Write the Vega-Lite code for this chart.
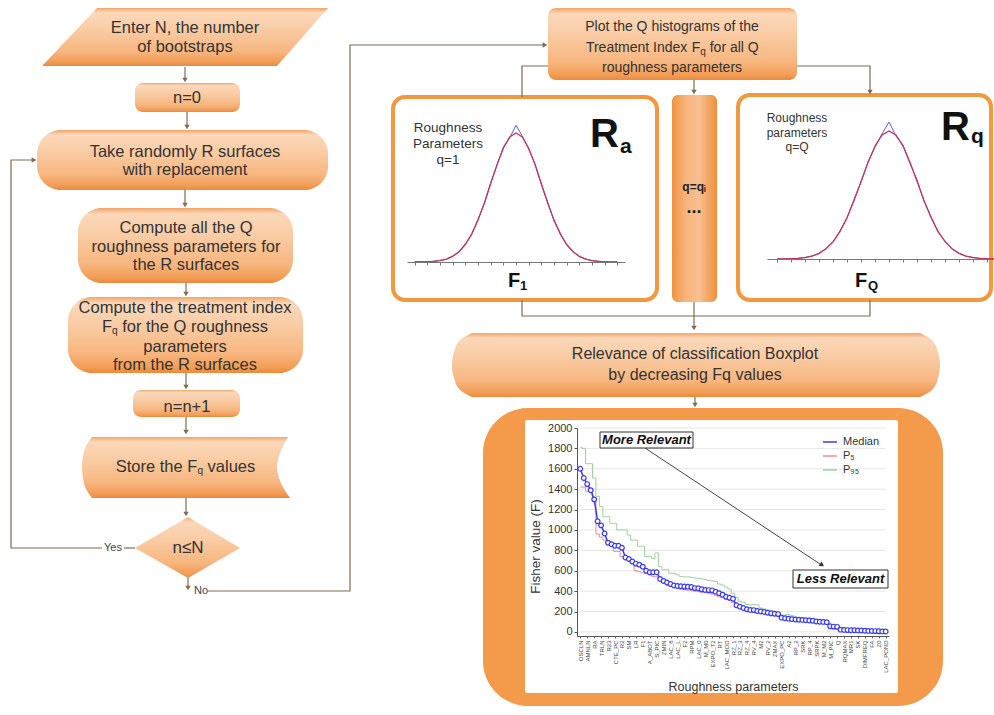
{
"$schema": "https://vega.github.io/schema/vega-lite/v6.json",
"width": 994, "height": 715, "padding": 0, "autosize": {"type": "none"},
"background": "white",
"config": {"view": {"stroke": null}, "font": "Liberation Sans"},
"datasets": {
 "smallBoxes": [{"x":135,"x2":240,"y":83,"y2":112},{"x":133,"x2":240,"y":390,"y2":417},{"x":548,"x2":797,"y":8,"y2":80}],
 "bigBoxes": [{"x":37,"x2":328,"y":130,"y2":190},{"x":78,"x2":293,"y":208,"y2":283},{"x":68,"x2":303,"y":297,"y2":373}],
 "vshapes": [{"s":"para","x":42,"y":66,"y2":66},{"s":"para","x":97,"y":8,"y2":66},{"s":"para","x":277,"y":8,"y2":66},{"s":"para","x":328,"y":8,"y2":8},{"s":"dia","x":135,"y":548,"y2":548},{"s":"dia","x":188,"y":517,"y2":578},{"s":"dia","x":240,"y":548,"y2":548}],
 "hshapes": [{"s":"store","y":437,"x":92,"x2":288},{"s":"store","y":446,"x":86,"x2":283},{"s":"store","y":456,"x":83,"x2":279},{"s":"store","y":467,"x":82,"x2":277},{"s":"store","y":478,"x":83,"x2":279},{"s":"store","y":489,"x":86,"x2":284},{"s":"store","y":498,"x":92,"x2":290},
   {"s":"rel","y":333,"x":472,"x2":920},{"s":"rel","y":340,"x":460,"x2":932},{"s":"rel","y":352,"x":454,"x2":938},{"s":"rel","y":365,"x":452,"x2":940},{"s":"rel","y":378,"x":454,"x2":938},{"s":"rel","y":390,"x":460,"x2":932},{"s":"rel","y":397,"x":472,"x2":920}]
},
"resolve": {"scale": {"x": "independent", "y": "independent"}},
"layer": [
 {
  "encoding": {
   "x": {"field":"x","type":"quantitative","scale":{"domain":[0,994],"nice":false,"zero":false},"axis":null,"stack":null},
   "y": {"field":"y","type":"quantitative","scale":{"domain":[0,715],"nice":false,"zero":false,"reverse":true},"axis":null,"stack":null}
  },
  "layer": [
   {"data":{"values":[{"x":483,"x2":943,"y":408,"y2":706}]},"mark":{"type":"rect","cornerRadius":45,"color":"#F39A4B"},"encoding":{"x2":{"field":"x2"},"y2":{"field":"y2"}}},
   {"data":{"values":[{"x":525,"x2":898,"y":420,"y2":693}]},"mark":{"type":"rect","color":"white","cornerRadius":2},"encoding":{"x2":{"field":"x2"},"y2":{"field":"y2"}}},
   {"data":{"name":"smallBoxes"},"mark":{"type":"rect","cornerRadius":8,"color":"#8a8a8a","opacity":0.3,"xOffset":2,"yOffset":3},"encoding":{"x2":{"field":"x2"},"y2":{"field":"y2"}}},
   {"data":{"name":"bigBoxes"},"mark":{"type":"rect","cornerRadius":24,"color":"#8a8a8a","opacity":0.3,"xOffset":2,"yOffset":3},"encoding":{"x2":{"field":"x2"},"y2":{"field":"y2"}}},
   {"data":{"name":"smallBoxes"},"mark":{"type":"rect","cornerRadius":8,"fill":{"gradient":"linear","x1":0,"y1":0,"x2":0,"y2":1,"stops":[{"offset":0,"color":"#F4A466"},{"offset":0.08,"color":"#FBD8BA"},{"offset":0.35,"color":"#FACDA6"},{"offset":0.75,"color":"#F7B67F"},{"offset":0.93,"color":"#F29C55"},{"offset":1,"color":"#EA8A3C"}]}},"encoding":{"x2":{"field":"x2"},"y2":{"field":"y2"}}},
   {"data":{"name":"bigBoxes"},"mark":{"type":"rect","cornerRadius":24,"fill":{"gradient":"linear","x1":0,"y1":0,"x2":0,"y2":1,"stops":[{"offset":0,"color":"#F4A466"},{"offset":0.08,"color":"#FBD8BA"},{"offset":0.35,"color":"#FACDA6"},{"offset":0.75,"color":"#F7B67F"},{"offset":0.93,"color":"#F29C55"},{"offset":1,"color":"#EA8A3C"}]}},"encoding":{"x2":{"field":"x2"},"y2":{"field":"y2"}}},
   {"data":{"values":[{"x":672,"x2":717,"y":95,"y2":302}]},"mark":{"type":"rect","cornerRadius":6,"fill":{"gradient":"linear","x1":0,"y1":0,"x2":1,"y2":0,"stops":[{"offset":0,"color":"#EF923F"},{"offset":0.3,"color":"#F7B47C"},{"offset":0.6,"color":"#F8BF90"},{"offset":1,"color":"#EE8F3C"}]}},"encoding":{"x2":{"field":"x2"},"y2":{"field":"y2"}}},
   {"data":{"values":[{"x":393,"x2":657,"y":97,"y2":300},{"x":738,"x2":991,"y":95,"y2":300}]},"mark":{"type":"rect","cornerRadius":12,"fill":"white","stroke":"#F2983F","strokeWidth":4},"encoding":{"x2":{"field":"x2"},"y2":{"field":"y2"}}},
   {"data":{"name":"vshapes"},"mark":{"type":"area","interpolate":"linear","fill":{"gradient":"linear","x1":0,"y1":0,"x2":0,"y2":1,"stops":[{"offset":0,"color":"#F4A466"},{"offset":0.08,"color":"#FBD8BA"},{"offset":0.35,"color":"#FACDA6"},{"offset":0.75,"color":"#F7B67F"},{"offset":0.93,"color":"#F29C55"},{"offset":1,"color":"#EA8A3C"}]}},"encoding":{"y2":{"field":"y2"},"detail":{"field":"s","type":"nominal"}}},
   {"data":{"name":"hshapes"},"mark":{"type":"area","orient":"horizontal","interpolate":"monotone","fill":{"gradient":"linear","x1":0,"y1":0,"x2":0,"y2":1,"stops":[{"offset":0,"color":"#F4A466"},{"offset":0.08,"color":"#FBD8BA"},{"offset":0.35,"color":"#FACDA6"},{"offset":0.75,"color":"#F7B67F"},{"offset":0.93,"color":"#F29C55"},{"offset":1,"color":"#EA8A3C"}]}},"encoding":{"x2":{"field":"x2"},"detail":{"field":"s","type":"nominal"}}},
   {"data":{"values":[
     {"seg":"a","k":0,"x":185,"y":67},{"seg":"a","k":1,"x":185,"y":80},
     {"seg":"b","k":0,"x":187,"y":112},{"seg":"b","k":1,"x":187,"y":127},
     {"seg":"c","k":0,"x":185,"y":190},{"seg":"c","k":1,"x":185,"y":205},
     {"seg":"d","k":0,"x":186,"y":283},{"seg":"d","k":1,"x":186,"y":294},
     {"seg":"e","k":0,"x":186,"y":373},{"seg":"e","k":1,"x":186,"y":387},
     {"seg":"f","k":0,"x":186,"y":417},{"seg":"f","k":1,"x":186,"y":432},
     {"seg":"g","k":0,"x":186,"y":498},{"seg":"g","k":1,"x":186,"y":514},
     {"seg":"loop1","k":0,"x":135,"y":548},{"seg":"loop1","k":1,"x":124,"y":548},
     {"seg":"loop2","k":0,"x":102,"y":548},{"seg":"loop2","k":1,"x":11,"y":548},{"seg":"loop2","k":2,"x":11,"y":160},{"seg":"loop2","k":3,"x":34,"y":160},
     {"seg":"no1","k":0,"x":188,"y":578},{"seg":"no1","k":1,"x":188,"y":588},
     {"seg":"no2","k":0,"x":208,"y":591},{"seg":"no2","k":1,"x":350,"y":591},{"seg":"no2","k":2,"x":350,"y":45},{"seg":"no2","k":3,"x":545,"y":45},
     {"seg":"pl","k":0,"x":548,"y":66},{"seg":"pl","k":1,"x":522,"y":66},{"seg":"pl","k":2,"x":522,"y":97},
     {"seg":"pr","k":0,"x":797,"y":66},{"seg":"pr","k":1,"x":870,"y":66},{"seg":"pr","k":2,"x":870,"y":92},
     {"seg":"pm","k":0,"x":694,"y":80},{"seg":"pm","k":1,"x":694,"y":92},
     {"seg":"bot","k":0,"x":522,"y":300},{"seg":"bot","k":1,"x":522,"y":316},{"seg":"bot","k":2,"x":870,"y":316},{"seg":"bot","k":3,"x":870,"y":300},
     {"seg":"mid","k":0,"x":694,"y":302},{"seg":"mid","k":1,"x":694,"y":328},
     {"seg":"rel","k":0,"x":695,"y":397},{"seg":"rel","k":1,"x":695,"y":405}
    ]},
    "mark":{"type":"line","color":"#7F6D52","strokeWidth":1.2},"encoding":{"detail":{"field":"seg","type":"nominal"},"order":{"field":"k","type":"quantitative"}}},
   {"data":{"values":[
     {"x":185,"y":80,"dir":"down"},{"x":187,"y":127,"dir":"down"},{"x":185,"y":205,"dir":"down"},{"x":186,"y":294,"dir":"down"},{"x":186,"y":387,"dir":"down"},{"x":186,"y":432,"dir":"down"},{"x":186,"y":514,"dir":"down"},{"x":188,"y":588,"dir":"down"},
     {"x":34,"y":160,"dir":"right"},{"x":545,"y":45,"dir":"right"},{"x":870,"y":92,"dir":"down"},{"x":694,"y":92,"dir":"down"},{"x":694,"y":328,"dir":"down"},{"x":695,"y":405,"dir":"down"}
    ]},
    "mark":{"type":"point","filled":true,"size":30,"color":"#7F6D52","opacity":1},
    "encoding":{"shape":{"field":"dir","type":"nominal","scale":{"domain":["down","right"],"range":["triangle-down","triangle-right"]},"legend":null}}},
   {"data":{"values":[
     {"x":185,"y":28,"t":"Enter N, the number"},{"x":185,"y":47,"t":"of bootstraps"},{"x":187,"y":98,"t":"n=0"},
     {"x":185,"y":152,"t":"Take randomly R surfaces"},{"x":185,"y":170,"t":"with replacement"},
     {"x":186,"y":228,"t":"Compute all the Q"},{"x":186,"y":247,"t":"roughness parameters for"},{"x":186,"y":265,"t":"the R surfaces"},
     {"x":185,"y":308,"t":"Compute the treatment index"},{"x":185,"y":347,"t":"parameters"},{"x":185,"y":365,"t":"from the R surfaces"},
     {"x":187,"y":407,"t":"n=n+1"}
    ]},"mark":{"type":"text","fontSize":16.5,"color":"#333333","align":"center","baseline":"middle"},"encoding":{"text":{"field":"t"}}},
   {"data":{"values":[{"x":695,"y":354,"t":"Relevance of classification Boxplot"},{"x":695,"y":375,"t":"by decreasing Fq values"}]},
    "mark":{"type":"text","fontSize":16,"color":"#333333","align":"center","baseline":"middle"},"encoding":{"text":{"field":"t"}}},
   {"data":{"values":[{"x":672,"y":27,"t":"Plot the Q histograms of the"},{"x":672,"y":68,"t":"roughness parameters"}]},
    "mark":{"type":"text","fontSize":14,"color":"#333333","align":"center","baseline":"middle"},"encoding":{"text":{"field":"t"}}},
   {"data":{"values":[{"x":115.75,"y":467,"t":"Store the"},{"x":187.3,"y":467,"t":"F"},{"x":207.6,"y":467,"t":"values"},{"x":101.95,"y":327,"t":"F"},{"x":122.2,"y":327,"t":"for the Q roughness"}]},
    "mark":{"type":"text","fontSize":16.5,"color":"#333333","align":"left","baseline":"middle"},"encoding":{"text":{"field":"t"}}},
   {"data":{"values":[{"x":585.9,"y":48,"t":"Treatment Index"},{"x":691.7,"y":48,"t":"F"},{"x":709.7,"y":48,"t":"for all Q"}]},
    "mark":{"type":"text","fontSize":14,"color":"#333333","align":"left","baseline":"middle"},"encoding":{"text":{"field":"t"}}},
   {"data":{"values":[{"x":197.4,"y":471,"t":"q"},{"x":112.05,"y":331,"t":"q"},{"x":700.25,"y":52,"t":"q"}]},
    "mark":{"type":"text","fontSize":10,"color":"#333333","align":"left","baseline":"middle"},"encoding":{"text":{"field":"t"}}},
   {"data":{"values":[{"x":188,"y":548,"t":"n≤N"}]},
    "mark":{"type":"text","fontSize":17,"color":"#333333","align":"center","baseline":"middle"},"encoding":{"text":{"field":"t"}}},
   {"data":{"values":[{"x":113,"y":548,"t":"Yes"},{"x":201,"y":591,"t":"No"}]},
    "mark":{"type":"text","fontSize":11,"color":"#444444","align":"center","baseline":"middle"},"encoding":{"text":{"field":"t"}}},
   {"data":{"values":[{"x":448,"y":128,"t":"Roughness"},{"x":448,"y":144,"t":"Parameters"},{"x":448,"y":160,"t":"q=1"}]},
    "mark":{"type":"text","fontSize":13.5,"color":"#333333","align":"center","baseline":"middle"},"encoding":{"text":{"field":"t"}}},
   {"data":{"values":[{"x":797,"y":118,"t":"Roughness"},{"x":797,"y":133,"t":"parameters"},{"x":797,"y":147,"t":"q=Q"}]},
    "mark":{"type":"text","fontSize":12,"color":"#333333","align":"center","baseline":"middle"},"encoding":{"text":{"field":"t"}}},
   {"data":{"values":[{"x":590,"y":147,"t":"R"},{"x":941,"y":140,"t":"R"}]},
    "mark":{"type":"text","fontSize":40,"fontWeight":"bold","color":"#111111","align":"left","baseline":"alphabetic"},"encoding":{"text":{"field":"t"}}},
   {"data":{"values":[{"x":620,"y":153,"t":"a"},{"x":971,"y":143,"t":"q"}]},
    "mark":{"type":"text","fontSize":21,"fontWeight":"bold","color":"#111111","align":"left","baseline":"alphabetic"},"encoding":{"text":{"field":"t"}}},
   {"data":{"values":[{"x":508,"y":287,"t":"F"},{"x":855,"y":287,"t":"F"}]},
    "mark":{"type":"text","fontSize":20,"fontWeight":"bold","color":"#111111","align":"left","baseline":"alphabetic"},"encoding":{"text":{"field":"t"}}},
   {"data":{"values":[{"x":520,"y":290,"t":"1"},{"x":868,"y":290,"t":"Q"}]},
    "mark":{"type":"text","fontSize":13,"fontWeight":"bold","color":"#111111","align":"left","baseline":"alphabetic"},"encoding":{"text":{"field":"t"}}},
   {"data":{"values":[{"x":694,"y":187,"t":"q=qᵢ"}]},
    "mark":{"type":"text","fontSize":12,"fontWeight":"bold","color":"#222222","align":"center","baseline":"middle"},"encoding":{"text":{"field":"t"}}},
   {"data":{"values":[{"x":694,"y":208,"t":"..."}]},
    "mark":{"type":"text","fontSize":18,"fontWeight":"bold","color":"#222222","align":"center","baseline":"middle"},"encoding":{"text":{"field":"t"}}}
  ]
 },
 {
  "data": {"values": [
   {"k":-4,"red":0.0003,"blue":0.001},{"k":-3.75,"red":0.0009,"blue":0.002},{"k":-3.5,"red":0.0022,"blue":0.003},{"k":-3.25,"red":0.0051,"blue":0.006},{"k":-3,"red":0.011,"blue":0.012},{"k":-2.75,"red":0.0228,"blue":0.021},{"k":-2.5,"red":0.0439,"blue":0.046},{"k":-2.25,"red":0.0796,"blue":0.076},{"k":-2,"red":0.1353,"blue":0.14},{"k":-1.75,"red":0.2163,"blue":0.212},{"k":-1.5,"red":0.3247,"blue":0.33},{"k":-1.25,"red":0.4578,"blue":0.452},{"k":-1,"red":0.6065,"blue":0.615},{"k":-0.75,"red":0.7548,"blue":0.748},{"k":-0.5,"red":0.8825,"blue":0.89},{"k":-0.25,"red":0.9692,"blue":0.962},{"k":0,"red":1,"blue":1.06},{"k":0.25,"red":0.9692,"blue":0.975},{"k":0.5,"red":0.8825,"blue":0.875},{"k":0.75,"red":0.7548,"blue":0.762},{"k":1,"red":0.6065,"blue":0.6},{"k":1.25,"red":0.4578,"blue":0.465},{"k":1.5,"red":0.3247,"blue":0.318},{"k":1.75,"red":0.2163,"blue":0.222},{"k":2,"red":0.1353,"blue":0.13},{"k":2.25,"red":0.0796,"blue":0.083},{"k":2.5,"red":0.0439,"blue":0.041},{"k":2.75,"red":0.0228,"blue":0.024},{"k":3,"red":0.011,"blue":0.01},{"k":3.25,"red":0.0051,"blue":0.006},{"k":3.5,"red":0.0022,"blue":0.002},{"k":3.75,"red":0.0009,"blue":0.001},{"k":4,"red":0.0003,"blue":0.0005}
  ]},
  "encoding": {"x": {"field":"k","type":"quantitative","scale":{"domain":[-4.3,4.3],"range":[407,625],"nice":false,"zero":false},"axis":{"orient":"bottom","offset":-453,"zindex":1,"labels":false,"title":null,"grid":false,"tickCount":18,"tickSize":3,"domainColor":"#777777","tickColor":"#777777"}}},
  "layer": [
   {"mark":{"type":"line","color":"#5B5BE8","strokeWidth":1},"encoding":{"y":{"field":"blue","type":"quantitative","scale":{"domain":[0,1],"range":[262,133],"nice":false,"zero":false},"axis":null}}},
   {"mark":{"type":"line","color":"#C8325A","strokeWidth":1.3},"encoding":{"y":{"field":"red","type":"quantitative","scale":{"domain":[0,1],"range":[262,133],"nice":false,"zero":false},"axis":null}}}
  ]
 },
 {
  "data": {"values": [
   {"k":-4,"red":0.0003,"blue":0.001},{"k":-3.75,"red":0.0009,"blue":0.001},{"k":-3.5,"red":0.0022,"blue":0.002},{"k":-3.25,"red":0.0051,"blue":0.005},{"k":-3,"red":0.011,"blue":0.012},{"k":-2.75,"red":0.0228,"blue":0.024},{"k":-2.5,"red":0.0439,"blue":0.042},{"k":-2.25,"red":0.0796,"blue":0.082},{"k":-2,"red":0.1353,"blue":0.13},{"k":-1.75,"red":0.2163,"blue":0.22},{"k":-1.5,"red":0.3247,"blue":0.32},{"k":-1.25,"red":0.4578,"blue":0.466},{"k":-1,"red":0.6065,"blue":0.6},{"k":-0.75,"red":0.7548,"blue":0.76},{"k":-0.5,"red":0.8825,"blue":0.875},{"k":-0.25,"red":0.9692,"blue":0.978},{"k":0,"red":1,"blue":1.07},{"k":0.25,"red":0.9692,"blue":0.96},{"k":0.5,"red":0.8825,"blue":0.89},{"k":0.75,"red":0.7548,"blue":0.745},{"k":1,"red":0.6065,"blue":0.62},{"k":1.25,"red":0.4578,"blue":0.45},{"k":1.5,"red":0.3247,"blue":0.33},{"k":1.75,"red":0.2163,"blue":0.21},{"k":2,"red":0.1353,"blue":0.14},{"k":2.25,"red":0.0796,"blue":0.077},{"k":2.5,"red":0.0439,"blue":0.045},{"k":2.75,"red":0.0228,"blue":0.022},{"k":3,"red":0.011,"blue":0.012},{"k":3.25,"red":0.0051,"blue":0.004},{"k":3.5,"red":0.0022,"blue":0.003},{"k":3.75,"red":0.0009,"blue":0.001}
  ]},
  "encoding": {"x": {"field":"k","type":"quantitative","scale":{"domain":[-4.36,3.75],"range":[767,994],"nice":false,"zero":false},"axis":{"orient":"bottom","offset":-456,"zindex":1,"labels":false,"title":null,"grid":false,"tickCount":18,"tickSize":3,"domainColor":"#777777","tickColor":"#777777"}}},
  "layer": [
   {"mark":{"type":"line","color":"#5B5BE8","strokeWidth":1},"encoding":{"y":{"field":"blue","type":"quantitative","scale":{"domain":[0,1],"range":[259,131],"nice":false,"zero":false},"axis":null}}},
   {"mark":{"type":"line","color":"#C8325A","strokeWidth":1.3},"encoding":{"y":{"field":"red","type":"quantitative","scale":{"domain":[0,1],"range":[259,131],"nice":false,"zero":false},"axis":null}}}
  ]
 },
 {
  "data": {"values": [
   {"i":0,"param":"OSCLN","Median":1600,"P₅":1420,"P₉₅":1810},
   {"i":1,"param":"p1","Median":1510,"P₅":1420,"P₉₅":1800},
   {"i":2,"param":"AMNLN","Median":1450,"P₅":1380,"P₉₅":1650},
   {"i":3,"param":"p3","Median":1390,"P₅":1380,"P₉₅":1650},
   {"i":4,"param":"RA","Median":1300,"P₅":1290,"P₉₅":1510},
   {"i":5,"param":"p5","Median":1085,"P₅":960,"P₉₅":1330},
   {"i":6,"param":"TRLN","Median":1045,"P₅":930,"P₉₅":1230},
   {"i":7,"param":"p7","Median":965,"P₅":900,"P₉₅":1130},
   {"i":8,"param":"R23","Median":875,"P₅":860,"P₉₅":1130},
   {"i":9,"param":"p9","Median":860,"P₅":840,"P₉₅":1065},
   {"i":10,"param":"CTE_PC","Median":845,"P₅":790,"P₉₅":1065},
   {"i":11,"param":"p11","Median":845,"P₅":790,"P₉₅":1000},
   {"i":12,"param":"R2","Median":825,"P₅":740,"P₉₅":1000},
   {"i":13,"param":"p13","Median":730,"P₅":720,"P₉₅":1000},
   {"i":14,"param":"SM","Median":715,"P₅":700,"P₉₅":950},
   {"i":15,"param":"p15","Median":690,"P₅":680,"P₉₅":900},
   {"i":16,"param":"LR","Median":670,"P₅":600,"P₉₅":900},
   {"i":17,"param":"p17","Median":660,"P₅":590,"P₉₅":840},
   {"i":18,"param":"F1","Median":640,"P₅":580,"P₉₅":840},
   {"i":19,"param":"p19","Median":600,"P₅":570,"P₉₅":740},
   {"i":20,"param":"A_ABOT","Median":585,"P₅":560,"P₉₅":740},
   {"i":21,"param":"p21","Median":585,"P₅":545,"P₉₅":720},
   {"i":22,"param":"S_PIC","Median":585,"P₅":540,"P₉₅":775},
   {"i":23,"param":"p23","Median":520,"P₅":500,"P₉₅":640},
   {"i":24,"param":"ZMIN","Median":500,"P₅":480,"P₉₅":610},
   {"i":25,"param":"p25","Median":485,"P₅":460,"P₉₅":610},
   {"i":26,"param":"LAC_8","Median":470,"P₅":445,"P₉₅":575},
   {"i":27,"param":"p27","Median":455,"P₅":440,"P₉₅":575},
   {"i":28,"param":"LAC_L","Median":450,"P₅":430,"P₉₅":560},
   {"i":29,"param":"p29","Median":448,"P₅":420,"P₉₅":545},
   {"i":30,"param":"F2","Median":445,"P₅":415,"P₉₅":540},
   {"i":31,"param":"p31","Median":444,"P₅":410,"P₉₅":540},
   {"i":32,"param":"RPM","Median":440,"P₅":405,"P₉₅":535},
   {"i":33,"param":"p33","Median":430,"P₅":400,"P₉₅":530},
   {"i":34,"param":"LAC_0","Median":428,"P₅":395,"P₉₅":525},
   {"i":35,"param":"p35","Median":418,"P₅":390,"P₉₅":520},
   {"i":36,"param":"M_M0","Median":412,"P₅":385,"P₉₅":515},
   {"i":37,"param":"p37","Median":410,"P₅":380,"P₉₅":505},
   {"i":38,"param":"EXPO_T2","Median":408,"P₅":370,"P₉₅":500},
   {"i":39,"param":"p39","Median":395,"P₅":360,"P₉₅":495},
   {"i":40,"param":"RT","Median":380,"P₅":345,"P₉₅":470},
   {"i":41,"param":"p41","Median":365,"P₅":335,"P₉₅":460},
   {"i":42,"param":"LAC_MOD","Median":345,"P₅":320,"P₉₅":440},
   {"i":43,"param":"p43","Median":335,"P₅":310,"P₉₅":420},
   {"i":44,"param":"RZ_1","Median":325,"P₅":290,"P₉₅":380},
   {"i":45,"param":"p45","Median":262,"P₅":240,"P₉₅":340},
   {"i":46,"param":"RZ_3","Median":248,"P₅":230,"P₉₅":300},
   {"i":47,"param":"p47","Median":235,"P₅":220,"P₉₅":290},
   {"i":48,"param":"RZ_4","Median":222,"P₅":205,"P₉₅":270},
   {"i":49,"param":"p49","Median":216,"P₅":200,"P₉₅":265},
   {"i":50,"param":"RV_4","Median":214,"P₅":195,"P₉₅":270},
   {"i":51,"param":"p51","Median":205,"P₅":190,"P₉₅":265},
   {"i":52,"param":"M2","Median":200,"P₅":185,"P₉₅":235},
   {"i":53,"param":"p53","Median":195,"P₅":180,"P₉₅":225},
   {"i":54,"param":"RV_2","Median":188,"P₅":175,"P₉₅":215},
   {"i":55,"param":"p55","Median":182,"P₅":170,"P₉₅":210},
   {"i":56,"param":"ZMAX","Median":178,"P₅":165,"P₉₅":200},
   {"i":57,"param":"p57","Median":175,"P₅":160,"P₉₅":195},
   {"i":58,"param":"EXPO_PC","Median":140,"P₅":125,"P₉₅":165},
   {"i":59,"param":"p59","Median":134,"P₅":120,"P₉₅":165},
   {"i":60,"param":"A2","Median":130,"P₅":115,"P₉₅":170},
   {"i":61,"param":"p61","Median":125,"P₅":112,"P₉₅":160},
   {"i":62,"param":"RP_2","Median":122,"P₅":110,"P₉₅":145},
   {"i":63,"param":"p63","Median":120,"P₅":108,"P₉₅":140},
   {"i":64,"param":"SRK","Median":118,"P₅":105,"P₉₅":135},
   {"i":65,"param":"p65","Median":115,"P₅":102,"P₉₅":130},
   {"i":66,"param":"RP_4","Median":112,"P₅":100,"P₉₅":125},
   {"i":67,"param":"p67","Median":110,"P₅":98,"P₉₅":122},
   {"i":68,"param":"SRPK","Median":102,"P₅":92,"P₉₅":115},
   {"i":69,"param":"p69","Median":100,"P₅":90,"P₉₅":110},
   {"i":70,"param":"M_M2","Median":98,"P₅":88,"P₉₅":105},
   {"i":71,"param":"p71","Median":96,"P₅":86,"P₉₅":100},
   {"i":72,"param":"M_PIC","Median":55,"P₅":45,"P₉₅":62},
   {"i":73,"param":"p73","Median":52,"P₅":42,"P₉₅":58},
   {"i":74,"param":"Q","Median":50,"P₅":40,"P₉₅":55},
   {"i":75,"param":"p75","Median":22,"P₅":12,"P₉₅":30},
   {"i":76,"param":"RQMAX","Median":20,"P₅":11,"P₉₅":28},
   {"i":77,"param":"p77","Median":18,"P₅":10,"P₉₅":26},
   {"i":78,"param":"MR1","Median":17,"P₅":9,"P₉₅":24},
   {"i":79,"param":"p79","Median":16,"P₅":8,"P₉₅":22},
   {"i":80,"param":"SK","Median":15,"P₅":7,"P₉₅":21},
   {"i":81,"param":"p81","Median":14,"P₅":6,"P₉₅":20},
   {"i":82,"param":"DIMFREQ","Median":12,"P₅":5,"P₉₅":18},
   {"i":83,"param":"p83","Median":10,"P₅":4,"P₉₅":16},
   {"i":84,"param":"FA","Median":9,"P₅":4,"P₉₅":15},
   {"i":85,"param":"p85","Median":8,"P₅":3,"P₉₅":14},
   {"i":86,"param":"Z0","Median":6,"P₅":3,"P₉₅":12},
   {"i":87,"param":"p87","Median":5,"P₅":2,"P₉₅":11},
   {"i":88,"param":"LAC_POND","Median":4,"P₅":2,"P₉₅":10}
  ]},
  "transform": [{"fold": ["Median","P₅","P₉₅"], "as": ["series","F"]}],
  "encoding": {
   "x": {"field":"param","type":"nominal","sort":{"field":"i","op":"min"},
     "scale":{"type":"point","range":[577,889],"padding":0.95},
     "axis":{"orient":"bottom","values":["OSCLN","AMNLN","RA","TRLN","R23","CTE_PC","R2","SM","LR","F1","A_ABOT","S_PIC","ZMIN","LAC_8","LAC_L","F2","RPM","LAC_0","M_M0","EXPO_T2","RT","LAC_MOD","RZ_1","RZ_3","RZ_4","RV_4","M2","RV_2","ZMAX","EXPO_PC","A2","RP_2","SRK","RP_4","SRPK","M_M2","M_PIC","Q","RQMAX","MR1","SK","DIMFREQ","FA","Z0","LAC_POND"],
       "offset":-79,"zindex":1,"labelAngle":-90,"labelFontSize":6,"labelColor":"#444444","labelPadding":2,"tickSize":2,"tickColor":"#666666","domainColor":"#555555","grid":false,
       "title":"Roughness parameters","titleFontSize":12.5,"titleFontWeight":"normal","titleColor":"#333333","titlePadding":8}},
   "y": {"field":"F","type":"quantitative","scale":{"domain":[-40,2000],"range":[636,428],"nice":false,"zero":false},
     "axis":{"orient":"left","values":[0,200,400,600,800,1000,1200,1400,1600,1800,2000],"format":"d","offset":-577,"zindex":1,"grid":false,"domainColor":"#555555","tickColor":"#555555","tickSize":3,"labelFontSize":11,"labelColor":"#333333","labelPadding":2,
       "title":"Fisher value (F)","titleFontSize":13.5,"titleFontWeight":"normal","titleColor":"#333333","titlePadding":5,"titleY":546}},
   "color": {"field":"series","type":"nominal","scale":{"domain":["Median","P₅","P₉₅"],"range":["#3A3AF2","#F28C8C","#9FCF9F"]},
     "legend":{"orient":"none","legendX":822,"legendY":434,"title":null,"symbolType":"stroke","symbolSize":200,"symbolStrokeWidth":1.5,"labelFontSize":11,"labelColor":"#333333","rowPadding":1,"labelOffset":5}},
   "order": {"field":"i","type":"quantitative"}
  },
  "layer": [
   {"data":{"values":[{"g":0},{"g":200},{"g":400},{"g":600},{"g":800},{"g":1000},{"g":1200},{"g":1400},{"g":1600},{"g":1800},{"g":2000}]},
    "mark":{"type":"rule","strokeWidth":1},
    "encoding":{"x":{"datum":"OSCLN"},"x2":{"datum":"LAC_POND"},"y":{"field":"g","type":"quantitative"},"color":{"value":"#E6E6E6"},"order":{"value":0}}},
   {"transform":[{"filter":"datum.series != 'Median'"}],"mark":{"type":"line","interpolate":"step","strokeWidth":1}},
   {"transform":[{"filter":"datum.series == 'Median'"}],"mark":{"type":"line","strokeWidth":1.5}},
   {"transform":[{"filter":"datum.series == 'Median'"}],"mark":{"type":"point","shape":"circle","size":22,"filled":false,"fill":"white","strokeWidth":1.2,"opacity":1}}
  ]
 },
 {
  "encoding": {
   "x": {"field":"x","type":"quantitative","scale":{"domain":[0,994],"nice":false,"zero":false},"axis":null},
   "y": {"field":"y","type":"quantitative","scale":{"domain":[0,715],"nice":false,"zero":false,"reverse":true},"axis":null}
  },
  "layer": [
   {"data":{"values":[{"x":645,"y":448,"k":0},{"x":820,"y":564,"k":1}]},"mark":{"type":"line","color":"#444444","strokeWidth":1},"encoding":{"order":{"field":"k","type":"quantitative"}}},
   {"data":{"values":[{"x":822,"y":565}]},"mark":{"type":"point","shape":"triangle-right","angle":33.5,"filled":true,"size":30,"color":"#333333","opacity":1}},
   {"data":{"values":[{"x":600,"x2":693,"y":432,"y2":448},{"x":793,"x2":888,"y":570,"y2":588}]},"mark":{"type":"rect","fill":"white","stroke":"#333333","strokeWidth":1},"encoding":{"x2":{"field":"x2"},"y2":{"field":"y2"}}},
   {"data":{"values":[{"x":646.5,"y":440,"t":"More Relevant"},{"x":840.5,"y":579,"t":"Less Relevant"}]},
    "mark":{"type":"text","fontSize":13,"fontWeight":"bold","fontStyle":"italic","color":"#111111","align":"center","baseline":"middle"},"encoding":{"text":{"field":"t"}}}
  ]
 }
]
}
